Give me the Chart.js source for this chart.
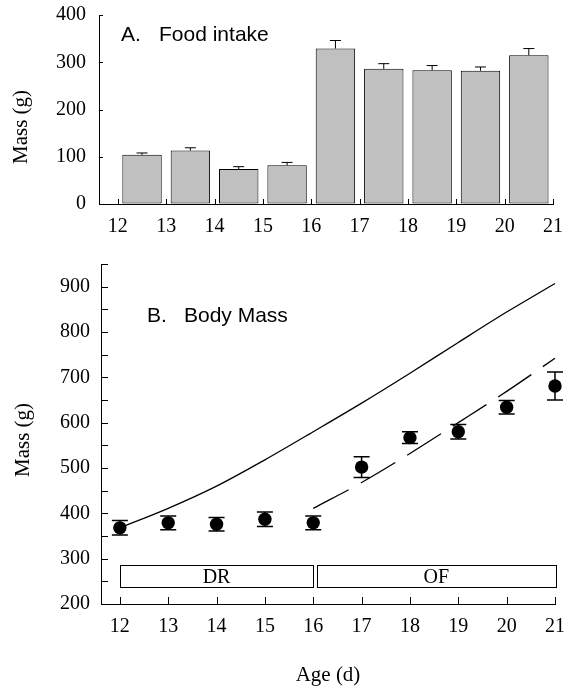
<!DOCTYPE html>
<html>
<head>
<meta charset="utf-8">
<script src="https://cdn.jsdelivr.net/npm/chart.js@4.4.1/dist/chart.umd.min.js"></script>
<style>
  html, body { margin: 0; padding: 0; background: #fff; }
  #caixaA { position: absolute; left: 0; top: 0; }
  #caixaB { position: absolute; left: 0; top: 250px; }
</style>
</head>
<body>
<canvas id="caixaA" width="565" height="250"></canvas>
<canvas id="caixaB" width="565" height="443"></canvas>
<script>
// Painel A: consumo de alimento (barras entre os dias)
const diasBarra = [12.5, 13.5, 14.5, 15.5, 16.5, 17.5, 18.5, 19.5, 20.5];
const consumo = [104, 113, 74, 82, 329, 286, 283, 282, 315];
const consumoErro = [4, 6, 5, 6, 17, 11, 10, 8, 14];

// Painel B: massa corporal
const idades = [12, 13, 14, 15, 16, 17, 18, 19, 20, 21];
const massa = [368, 379, 376, 387, 379, 502, 567, 580, 634, 681];
const massaErro = [16, 15, 15, 16, 15, 23, 13, 16, 15, 31];
const curvaEsperada = [368, 411, 460, 518, 580, 643, 709, 777, 844, 907];
const idadesRecuperacao = [16, 17, 18, 19, 20, 21];
const curvaRecuperacao = [411, 468, 532, 600, 669, 742];

// Períodos: restrição (DR) e realimentação (OF)
const periodos = ['DR', 'OF'];
const periodoInicio = [12, 16.07];
const periodoFim = [16, 21.02];
const periodoMassa = [236, 285];

const ticksIdade = [12, 13, 14, 15, 16, 17, 18, 19, 20, 21];

Chart.defaults.font.family = '"Liberation Serif", "Times New Roman", serif';
Chart.defaults.font.size = 20;
Chart.defaults.color = '#000';
Chart.defaults.animation = false;

// ticks virados para dentro, como no original
const ticksParaDentro = {
  id: 'ticksParaDentro',
  afterDatasetsDraw(chart, args, opts) {
    const ctx = chart.ctx;
    const area = chart.chartArea;
    const sx = chart.scales.x, sy = chart.scales.y;
    ctx.save();
    ctx.strokeStyle = '#000';
    ctx.lineWidth = 1;
    sx.ticks.forEach(t => {
      const px = Math.round(sx.getPixelForValue(t.value)) + 0.5;
      ctx.beginPath();
      ctx.moveTo(px, area.bottom);
      ctx.lineTo(px, area.bottom - opts.tamX);
      ctx.stroke();
    });
    sy.ticks.forEach(t => {
      const py = Math.round(sy.getPixelForValue(t.value)) + 0.5;
      ctx.beginPath();
      ctx.moveTo(area.left, py);
      ctx.lineTo(area.left + opts.tamY, py);
      ctx.stroke();
    });
    ctx.restore();
  }
};

// barras de erro desenhadas a partir das escalas
const barrasErro = {
  id: 'barrasErro',
  afterDatasetsDraw(chart, args, opts) {
    const ctx = chart.ctx;
    const sx = chart.scales.x, sy = chart.scales.y;
    ctx.save();
    ctx.strokeStyle = '#000';
    ctx.lineWidth = opts.espessura;
    opts.xs.forEach((xv, i) => {
      const px = sx.getPixelForValue(xv);
      const topo = sy.getPixelForValue(opts.ys[i] + opts.erros[i]);
      const base = opts.soAcima ? sy.getPixelForValue(opts.ys[i]) : sy.getPixelForValue(opts.ys[i] - opts.erros[i]);
      ctx.beginPath();
      ctx.moveTo(px, base);
      ctx.lineTo(px, topo);
      ctx.moveTo(px - opts.tampa / 2, topo);
      ctx.lineTo(px + opts.tampa / 2, topo);
      if (!opts.soAcima) {
        ctx.moveTo(px - opts.tampa / 2, base);
        ctx.lineTo(px + opts.tampa / 2, base);
      }
      ctx.stroke();
    });
    ctx.restore();
  }
};

// caixas DR / OF
const caixasPeriodo = {
  id: 'caixasPeriodo',
  afterDatasetsDraw(chart) {
    const ctx = chart.ctx;
    const sx = chart.scales.x, sy = chart.scales.y;
    const y1 = sy.getPixelForValue(periodoMassa[1]);
    const y0 = sy.getPixelForValue(periodoMassa[0]);
    ctx.save();
    ctx.strokeStyle = '#000';
    ctx.lineWidth = 1;
    ctx.font = '20px "Liberation Serif", serif';
    ctx.fillStyle = '#000';
    ctx.textAlign = 'center';
    ctx.textBaseline = 'middle';
    periodos.forEach((p, i) => {
      const x0 = sx.getPixelForValue(periodoInicio[i]);
      const x1 = sx.getPixelForValue(periodoFim[i]);
      ctx.strokeRect(Math.round(x0) + 0.5, Math.round(y1) + 0.5, Math.round(x1 - x0), Math.round(y0 - y1));
      ctx.fillText(p, (x0 + x1) / 2, (y0 + y1) / 2 + 1);
    });
    ctx.restore();
  }
};

// textos: título do painel e títulos dos eixos
const textos = {
  id: 'textos',
  afterDraw(chart, args, opts) {
    const ctx = chart.ctx;
    const area = chart.chartArea;
    ctx.save();
    ctx.fillStyle = '#000';
    ctx.textBaseline = 'alphabetic';
    ctx.font = '21px "Liberation Sans", Arial, sans-serif';
    ctx.textAlign = 'left';
    ctx.fillText(opts.letra, opts.xLetra, opts.yTitulo);
    ctx.fillText(opts.titulo, opts.xTitulo, opts.yTitulo);

    ctx.font = '21px "Liberation Serif", serif';
    ctx.textAlign = 'center';
    ctx.textBaseline = 'middle';
    ctx.save();
    ctx.translate(opts.xEixoY, opts.yEixoY);
    ctx.rotate(-Math.PI / 2);
    ctx.fillText('Mass (g)', 0, 0);
    ctx.restore();
    if (opts.eixoX) {
      ctx.fillText(opts.eixoX, (area.left + area.right) / 2, opts.yEixoX);
    }
    ctx.restore();
  }
};

function eixoX(altura, padding) {
  return {
    type: 'linear',
    offset: false,
    min: 11.61,
    max: 21,
    afterBuildTicks: (scale) => { scale.ticks = ticksIdade.map(v => ({ value: v })); },
    afterFit: (scale) => {
      scale.height = altura;
      scale.paddingLeft = 0;
      scale.paddingRight = 0;
    },
    grid: { display: true, drawOnChartArea: false, drawTicks: false, offset: false },
    border: { display: true, color: '#000', width: 1 },
    ticks: { padding: padding, maxRotation: 0, autoSkip: false, callback: v => String(v) }
  };
}

function eixoY(min, max, passo, largura, padding) {
  return {
    min: min, max: max,
    afterFit: (scale) => {
      scale.width = largura;
      scale.paddingTop = 0;
      scale.paddingBottom = 0;
    },
    grid: { display: true, drawOnChartArea: false, drawTicks: false },
    border: { display: true, color: '#000', width: 1 },
    ticks: { stepSize: passo, padding: padding, autoSkip: false, callback: v => (v % 100 === 0 ? String(v) : '') }
  };
}

// Gráfico A: barras de consumo
new Chart(document.getElementById('caixaA'), {
  type: 'bar',
  data: {
    datasets: [{
      data: diasBarra.map((d, i) => ({ x: d, y: consumo[i] })),
      backgroundColor: '#c0c0c0',
      borderColor: '#000',
      borderWidth: 1,
      borderSkipped: false,
      categoryPercentage: 1,
      barPercentage: 0.815
    }]
  },
  options: {
    responsive: false,
    layout: { padding: { top: 15, right: 12, left: 0, bottom: 0 } },
    scales: {
      x: eixoX(46, 11),
      y: eixoY(0, 400, 100, 99, 13)
    },
    plugins: {
      legend: { display: false },
      tooltip: { enabled: false },
      ticksParaDentro: { tamX: 5, tamY: 4 },
      barrasErro: { xs: diasBarra, ys: consumo, erros: consumoErro, tampa: 11, espessura: 1, soAcima: true },
      textos: { letra: 'A.', titulo: 'Food intake', xLetra: 121, xTitulo: 159, yTitulo: 41, xEixoY: 21, yEixoY: 127 }
    }
  },
  plugins: [ticksParaDentro, barrasErro, textos]
});

// Gráfico B: massa corporal
new Chart(document.getElementById('caixaB'), {
  type: 'scatter',
  data: {
    datasets: [
      {
        data: idades.map((d, i) => ({ x: d, y: massa[i] })),
        pointRadius: 6.7,
        pointBackgroundColor: '#000',
        pointBorderColor: '#000',
        pointBorderWidth: 0,
        showLine: false
      },
      {
        type: 'line',
        data: idades.map((d, i) => ({ x: d, y: curvaEsperada[i] })),
        borderColor: '#000',
        borderWidth: 1.3,
        pointRadius: 0,
        cubicInterpolationMode: 'monotone'
      },
      {
        type: 'line',
        data: idadesRecuperacao.map((d, i) => ({ x: d, y: curvaRecuperacao[i] })),
        borderColor: '#000',
        borderWidth: 1.3,
        borderDash: [40, 14],
        pointRadius: 0,
        cubicInterpolationMode: 'monotone'
      }
    ]
  },
  options: {
    responsive: false,
    clip: false,
    layout: { padding: { top: 14, right: 10, left: 0, bottom: 0 } },
    scales: {
      x: eixoX(89, 11),
      y: eixoY(200, 950, 50, 101, 11)
    },
    plugins: {
      legend: { display: false },
      tooltip: { enabled: false },
      ticksParaDentro: { tamX: 7, tamY: 7 },
      barrasErro: { xs: idades, ys: massa, erros: massaErro, tampa: 16, espessura: 1.5, soAcima: false },
      textos: { letra: 'B.', titulo: 'Body Mass', xLetra: 147, xTitulo: 184, yTitulo: 72, xEixoY: 23, yEixoY: 190, eixoX: 'Age (d)', yEixoX: 425 }
    }
  },
  plugins: [ticksParaDentro, barrasErro, caixasPeriodo, textos]
});
</script>
</body>
</html>
